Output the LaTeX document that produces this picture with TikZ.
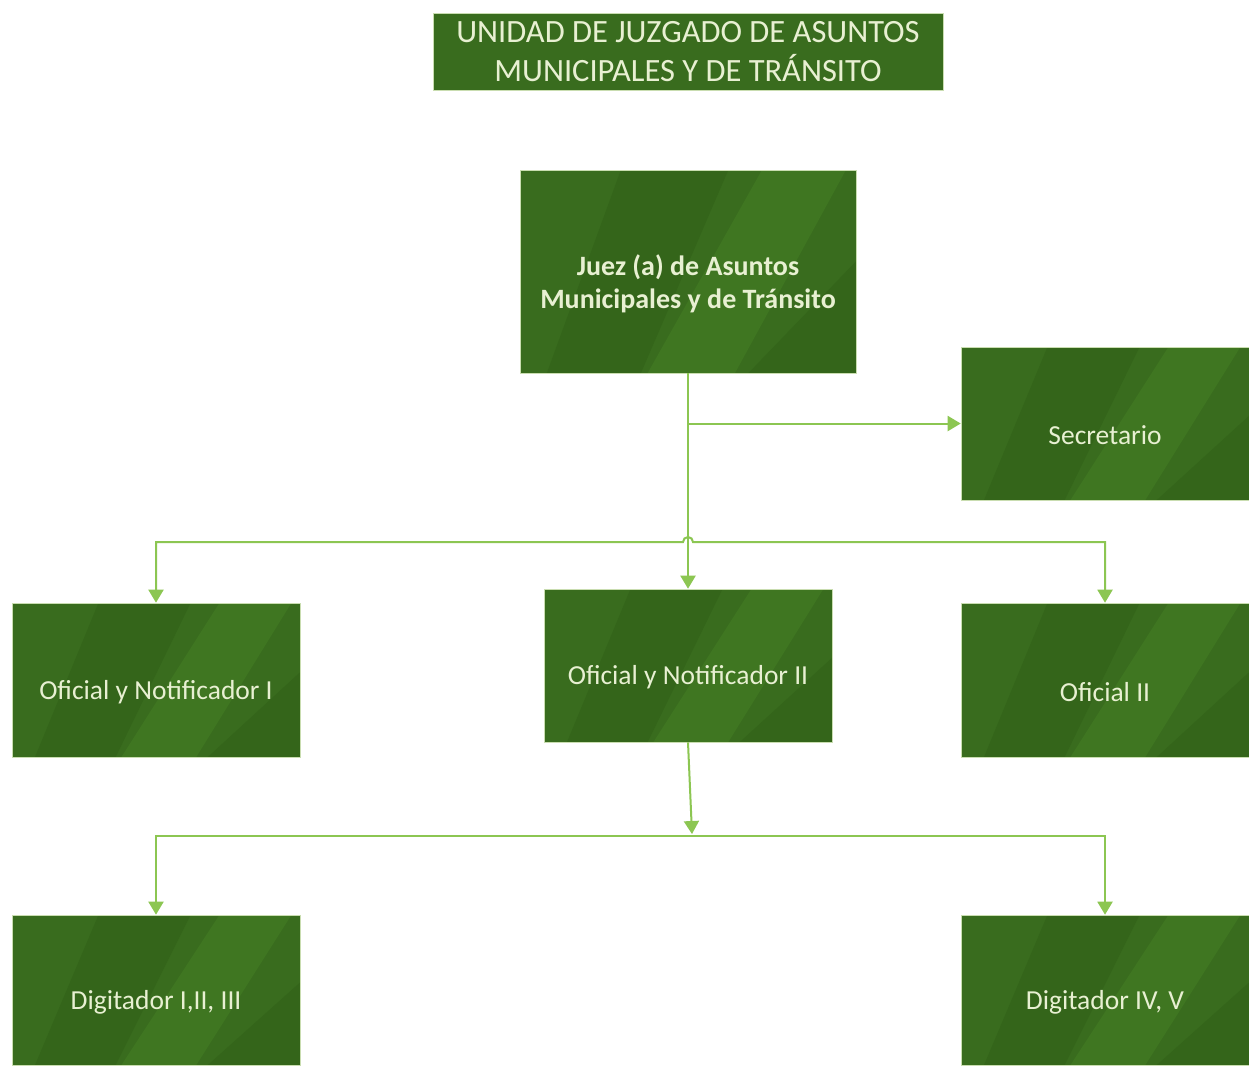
\documentclass[tikz,border=0pt]{standalone}
\usepackage{fontspec}
\setmainfont{Carlito}
\usetikzlibrary{arrows.meta,calc}
\definecolor{boxbase}{HTML}{396C1E}
\definecolor{boxdark}{HTML}{34651A}
\definecolor{boxlight}{HTML}{3F7621}
\definecolor{boxedge}{HTML}{C9DDB0}
\definecolor{txtc}{HTML}{E8F0D2}
\definecolor{connc}{HTML}{8CC652}
\tikzset{
  greenbox/.style={draw=boxedge, line width=0.6pt, fill=boxbase,
    minimum width=288pt, minimum height=153pt, inner sep=0pt,
    path picture={
      \coordinate (pA) at (path picture bounding box.south west);
      \coordinate (pB) at (path picture bounding box.north east);
      \fill[boxdark] let \p1=(pA), \p2=(pB), \n1={\x2-\x1} in
        ({\x1+0.08*\n1},\y1) -- ({\x1+0.36*\n1},\y1) -- ({\x1+0.62*\n1},\y2) -- ({\x1+0.30*\n1},\y2) -- cycle;
      \fill[boxlight] let \p1=(pA), \p2=(pB), \n1={\x2-\x1} in
        ({\x1+0.38*\n1},\y1) -- ({\x1+0.64*\n1},\y1) -- ({\x1+0.97*\n1},\y2) -- ({\x1+0.72*\n1},\y2) -- cycle;
      \fill[boxdark] let \p1=(pA), \p2=(pB), \n1={\x2-\x1} in
        ({\x1+0.68*\n1},\y1) -- ({\x1+1.0*\n1},\y1) -- ({\x1+1.0*\n1},{\y1+0.55*(\y2-\y1)}) -- cycle;
    }},
  boxtxt/.style={text=txtc, font=\fontsize{27.5}{33}\selectfont, align=center, yshift=-12pt},
  conn/.style={draw=connc, line width=2pt},
  tip/.style={-{Triangle[width=15pt,length=13pt]}},
  twotip/.style={{Triangle[width=15pt,length=13pt]}-{Triangle[width=15pt,length=13pt]}}
}
\begin{document}
\begin{tikzpicture}[x=1pt,y=-1pt]
\useasboundingbox (0,0) rectangle (1249,1065);
\fill[white] (0,0) rectangle (1249,1065);

\node[draw=boxedge, line width=0.6pt, fill=boxbase, minimum width=510pt, minimum height=77pt,
  inner sep=0pt, text=txtc, align=center, font=\fontsize{32.5}{39}\selectfont]
  (title) at (688,51.5) {UNIDAD DE JUZGADO DE ASUNTOS\\MUNICIPALES Y DE TRÁNSITO};

\node[greenbox, minimum width=336pt, minimum height=203pt,
  label={[boxtxt, font=\bfseries\fontsize{28}{33}\selectfont]center:Juez (a) de Asuntos\\Municipales y de Tránsito}]
  (juez) at (688,271.5) {};
\node[greenbox, label={[boxtxt]center:Secretario}] (sec) at (1105,423.5) {};
\node[greenbox, minimum height=154pt, label={[boxtxt]center:Oficial y Notificador I}] (of1) at (156,680) {};
\node[greenbox, label={[boxtxt]center:Oficial y Notificador II}] (of2) at (688,665.5) {};
\node[greenbox, minimum height=154pt, label={[boxtxt]center:Oficial II}] (ofb) at (1105,680) {};
\node[greenbox, minimum height=150pt, label={[boxtxt]center:Digitador I,II, III}] (dig1) at (156,990) {};
\node[greenbox, minimum height=150pt, label={[boxtxt]center:Digitador IV, V}] (dig2) at (1105,990) {};

\coordinate (hy) at (0,542);
\coordinate (jl) at (683,542);
\coordinate (mid) at (692,834);
\coordinate (ly) at (0,836);

\draw[conn,tip] (juez.south) -- (of2.north);
\draw[conn,tip] (juez.south |- sec.west) -- (sec.west);
\draw[conn,twotip] (of1.north) -- (of1.north |- hy) -- (jl) arc[start angle=180, end angle=0, radius=5pt] -- (ofb.north |- hy) -- (ofb.north);
\draw[conn,tip] (of2.south) -- (mid);
\draw[conn,twotip] (dig1.north) -- (dig1.north |- ly) -- (dig2.north |- ly) -- (dig2.north);
\end{tikzpicture}
\end{document}
